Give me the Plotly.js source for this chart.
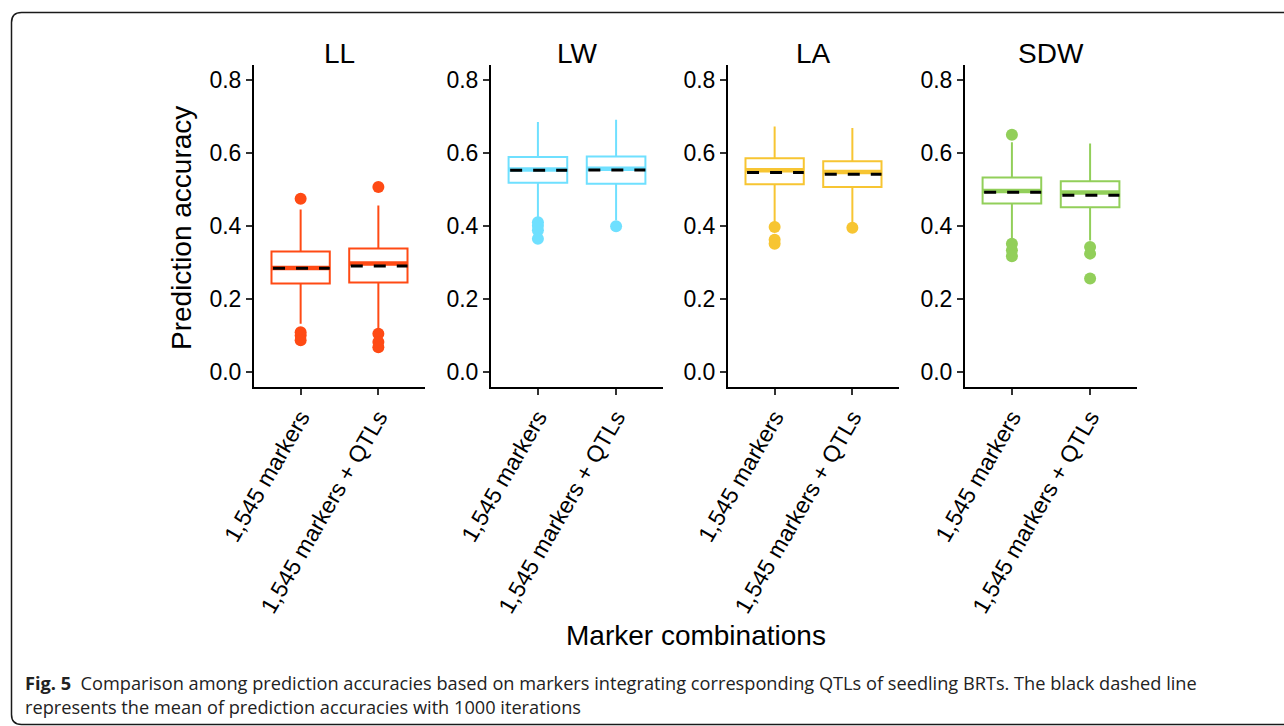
<!DOCTYPE html>
<html>
<head>
<meta charset="utf-8">
<script src="https://cdn.plot.ly/plotly-3.0.1.min.js"></script>
<style>
html,body{margin:0;padding:0;background:#fff;}
#chart{width:1284px;height:726px;}
</style>
</head>
<body>
<div id="chart"></div>
<script>
// ---- data ----
const traits = ['LL', 'LW', 'LA', 'SDW'];
const groups = ['1,545 markers', '1,545 markers + QTLs'];
const colors = ['#FF4A14', '#6FE0FF', '#F7C532', '#92CF5A'];

const q1Values     = {LL: [0.242, 0.245], LW: [0.518, 0.515], LA: [0.514, 0.506], SDW: [0.461, 0.451]};
const medianValues = {LL: [0.285, 0.297], LW: [0.554, 0.556], LA: [0.552, 0.547], SDW: [0.495, 0.491]};
const q3Values     = {LL: [0.330, 0.338], LW: [0.588, 0.590], LA: [0.585, 0.577], SDW: [0.532, 0.522]};
const lowerWhisker = {LL: [0.132, 0.119], LW: [0.424, 0.415], LA: [0.410, 0.410], SDW: [0.365, 0.360]};
const upperWhisker = {LL: [0.445, 0.456], LW: [0.684, 0.690], LA: [0.672, 0.668], SDW: [0.629, 0.625]};
const meanValues   = {LL: [0.284, 0.290], LW: [0.552, 0.553], LA: [0.546, 0.541], SDW: [0.492, 0.484]};
const outliers = {
  LL:  [[0.474, 0.109, 0.100, 0.087], [0.506, 0.105, 0.082, 0.068]],
  LW:  [[0.410, 0.400, 0.388, 0.365], [0.399]],
  LA:  [[0.397, 0.362, 0.351], [0.395]],
  SDW: [[0.649, 0.351, 0.333, 0.317], [0.342, 0.324, 0.256]]
};
const yTicks = [0, 0.2, 0.4, 0.6, 0.8];

// ---- layout constants ----
const W = 1284, H = 726;
const panelPx = [[254, 425], [491, 663], [728, 899], [965, 1137]];
const plotTop = 65, plotBottom = 386.7;
const boxW = 0.75;
const FONT = 'Liberation Sans, Arial, Helvetica, sans-serif';
const px = v => v / W;
const py = v => 1 - v / H;

const data = [];
const layout = {
  width: W, height: H,
  margin: {l: 0, r: 0, t: 0, b: 0},
  paper_bgcolor: '#fff', plot_bgcolor: '#fff',
  showlegend: false,
  font: {family: FONT, color: '#000'},
  annotations: [], shapes: []
};

traits.forEach((t, k) => {
  const n = k === 0 ? '' : String(k + 1);
  const xa = 'x' + n, ya = 'y' + n;
  const col = colors[k];
  const xs = groups.map((g, i) => i);

  data.push({
    type: 'box', xaxis: xa, yaxis: ya, x: xs,
    q1: q1Values[t], median: medianValues[t], q3: q3Values[t],
    lowerfence: lowerWhisker[t], upperfence: upperWhisker[t],
    width: boxW, whiskerwidth: 0, boxpoints: false,
    line: {color: col, width: 2}, fillcolor: 'rgba(255,255,255,0)',
    hoverinfo: 'skip'
  });

  // thick median (ggplot fatten) and dashed mean
  const mx = [], my = [], ex = [], ey = [];
  xs.forEach(i => {
    mx.push(i - boxW / 2, i + boxW / 2, null);
    my.push(medianValues[t][i], medianValues[t][i], null);
    ex.push(i - boxW / 2 + 0.02, i + boxW / 2, null);
    ey.push(meanValues[t][i], meanValues[t][i], null);
  });
  data.push({type: 'scatter', mode: 'lines', xaxis: xa, yaxis: ya, x: mx, y: my,
    line: {color: col, width: 4.5}, hoverinfo: 'skip'});
  data.push({type: 'scatter', mode: 'lines', xaxis: xa, yaxis: ya, x: ex, y: ey,
    line: {color: '#000', width: 3, dash: '12px,11px'}, hoverinfo: 'skip'});

  // outliers
  const ox = [], oy = [];
  xs.forEach(i => outliers[t][i].forEach(v => { ox.push(i); oy.push(v); }));
  data.push({type: 'scatter', mode: 'markers', xaxis: xa, yaxis: ya, x: ox, y: oy,
    marker: {color: col, size: 12, line: {width: 0}}, hoverinfo: 'skip'});

  const [a, b] = panelPx[k];
  layout['xaxis' + n] = {
    domain: [px(a), px(b)], anchor: ya, range: [-0.6, 1.6],
    tickmode: 'array', tickvals: xs, ticktext: groups, tickangle: -60,
    ticks: 'outside', ticklen: 6, tickwidth: 2, tickcolor: '#333',
    showline: true, linecolor: '#000', linewidth: 2,
    showgrid: false, zeroline: false, fixedrange: true,
    tickfont: {size: 23, color: '#000', family: FONT}, automargin: false
  };
  layout['yaxis' + n] = {
    domain: [py(plotBottom), py(plotTop)], anchor: xa, range: [-0.04, 0.84],
    tickmode: 'array', tickvals: yTicks, tickformat: '.1f',
    ticks: 'outside', ticklen: 6, tickwidth: 2, tickcolor: '#333',
    showline: true, linecolor: '#000', linewidth: 2,
    showgrid: false, zeroline: false, fixedrange: true,
    tickfont: {size: 23, color: '#000', family: FONT}, automargin: false
  };

  layout.annotations.push({
    text: t, xref: 'paper', yref: 'paper', x: px((a + b) / 2), y: py(53),
    xanchor: 'center', yanchor: 'middle', showarrow: false,
    font: {size: 28, color: '#000', family: FONT}
  });
});

// axis titles
layout.annotations.push({
  text: 'Prediction accuracy', xref: 'paper', yref: 'paper', x: px(181), y: py(228),
  xanchor: 'center', yanchor: 'middle', textangle: -90, showarrow: false,
  font: {size: 28, color: '#000', family: FONT}
});
layout.annotations.push({
  text: 'Marker combinations', xref: 'paper', yref: 'paper', x: px(695.5), y: py(635),
  xanchor: 'center', yanchor: 'middle', showarrow: false,
  font: {size: 28, color: '#000', family: FONT}
});

// caption
const CAP = 'Open Sans, Noto Sans, sans-serif';
layout.annotations.push({
  text: '<b>Fig. 5</b>&nbsp;&nbsp;Comparison among prediction accuracies based on markers integrating corresponding QTLs of seedling BRTs. The black dashed line',
  xref: 'paper', yref: 'paper', x: px(23), y: py(683), xanchor: 'left', yanchor: 'middle',
  showarrow: false, align: 'left', font: {size: 18.2, color: '#222', family: CAP}
});
layout.annotations.push({
  text: 'represents the mean of prediction accuracies with 1000 iterations',
  xref: 'paper', yref: 'paper', x: px(23), y: py(707), xanchor: 'left', yanchor: 'middle',
  showarrow: false, align: 'left', font: {size: 18.2, color: '#222', family: CAP}
});

// figure frame (rounded left corners)
const L = px(11.5), T = py(12.5), B = py(724.5), rx = px(10), ry = 10 / H;
layout.shapes.push({
  type: 'path', xref: 'paper', yref: 'paper', layer: 'below',
  path: `M 1.01,${T} L ${L + rx},${T} Q ${L},${T} ${L},${T - ry} L ${L},${B + ry} Q ${L},${B} ${L + rx},${B} L 1.01,${B}`,
  line: {color: '#1a1a1a', width: 1.5}
});

Plotly.newPlot('chart', data, layout, {displayModeBar: false, staticPlot: true});
</script>
</body>
</html>
